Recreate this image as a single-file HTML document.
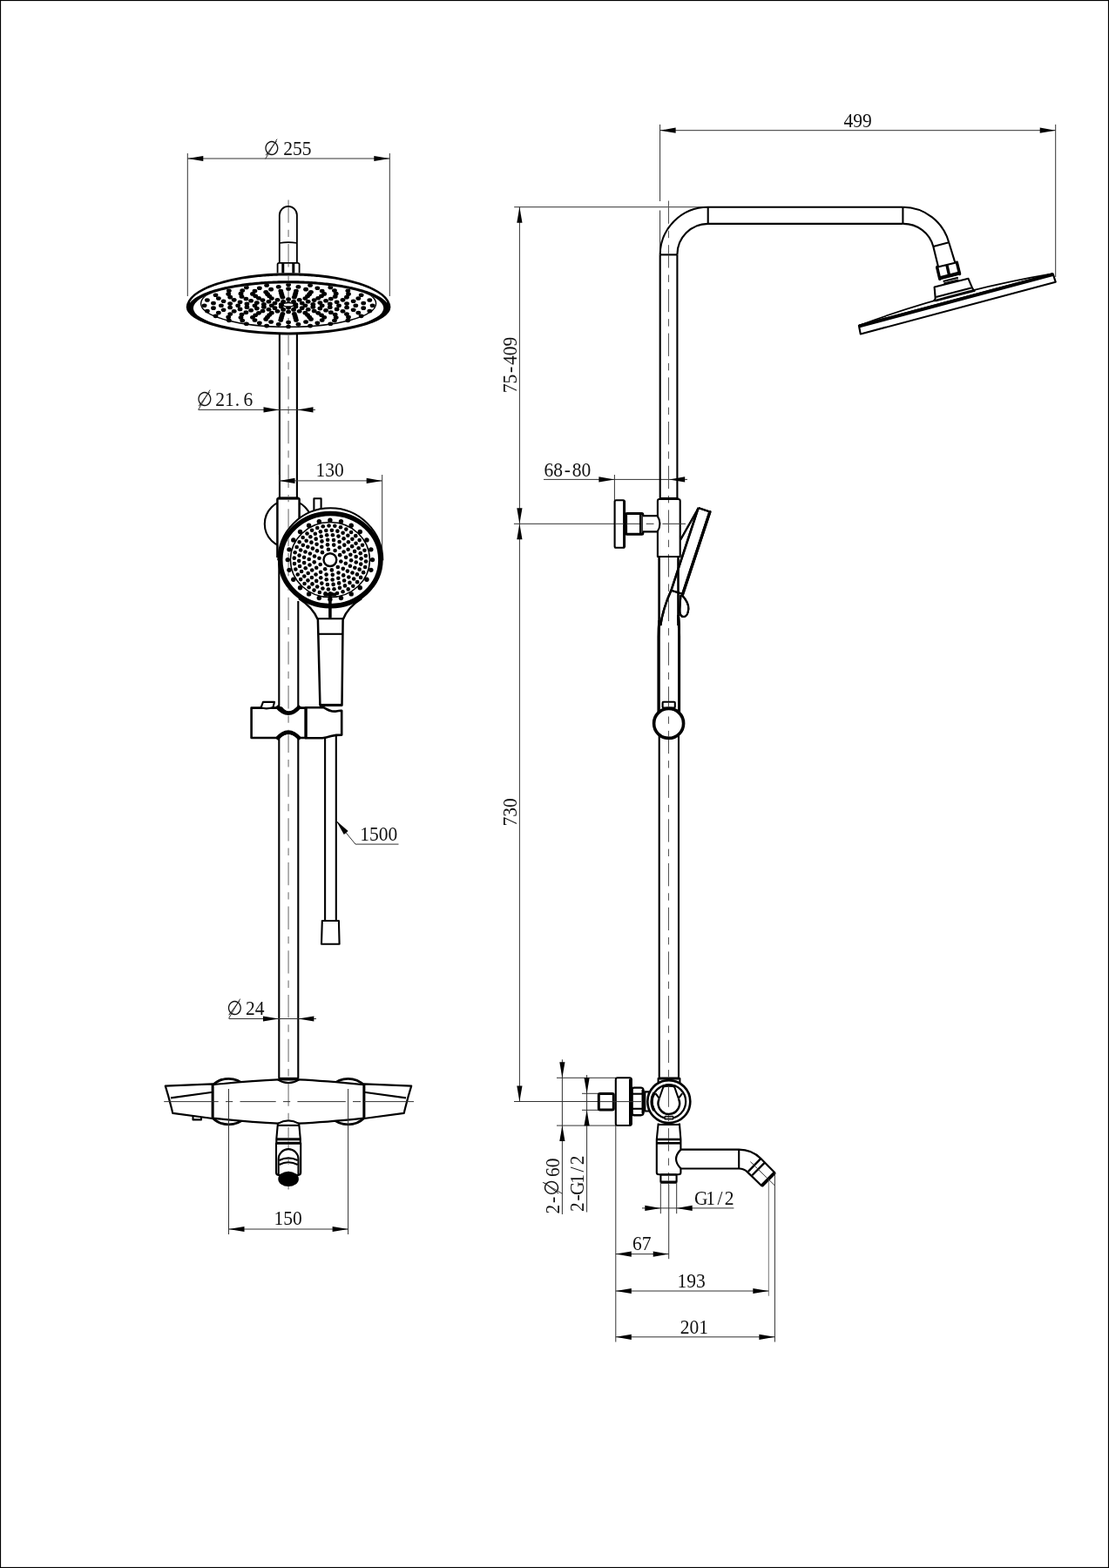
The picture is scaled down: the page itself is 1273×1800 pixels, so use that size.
<!DOCTYPE html>
<html lang="en"><head><meta charset="utf-8"><title>Shower column dimensions</title>
<style>
html,body{margin:0;padding:0;background:#fff;}
svg{display:block;will-change:transform;}
.m{fill:none;stroke:#000;stroke-width:2.1;stroke-linecap:butt;stroke-linejoin:round;}
.mw{fill:#fff;stroke:#000;stroke-width:2.1;stroke-linejoin:round;}
.t{fill:none;stroke:#000;stroke-width:3;stroke-linejoin:round;}
.tw{fill:#fff;stroke:#000;stroke-width:3;stroke-linejoin:round;}
.d{fill:none;stroke:#333;stroke-width:1;}
.c{fill:none;stroke:#999;stroke-width:1.5;stroke-dasharray:26.3 8 8.4 8;mix-blend-mode:darken;}
.c2{fill:none;stroke:#555;stroke-width:1;stroke-dasharray:26.3 8 8.4 8;mix-blend-mode:darken;}
.a{fill:#000;stroke:none;}
.k{fill:#000;stroke:none;}
.tx{font-family:"Liberation Serif",serif;fill:#111;}
.ds{font-family:"Liberation Serif","DejaVu Sans",serif;fill:#111;}
</style></head>
<body>
<svg width="1273" height="1800" viewBox="0 0 1273 1800">
<rect x="0" y="0" width="1273" height="1800" fill="#fff"/>
<g id="front-view">
<line class="d" x1="215.3" y1="176" x2="215.3" y2="340"/>
<line class="d" x1="447.3" y1="176" x2="447.3" y2="340"/>
<line class="d" x1="215.3" y1="182" x2="447.3" y2="182"/>
<polygon class="a" points="215.3,182 233.3,178.9 233.3,185.1"/>
<polygon class="a" points="447.3,182 429.3,185.1 429.3,178.9"/>
<g transform="translate(303,178.2)"><text class="tx" transform="scale(0.92,1)" font-size="23.4"><tspan class="ds" font-size="22.8" x="-0.36" y="-0.4">∅</tspan><tspan x="24.13 35.82 47.52" y="0">255</tspan></text><line class="d" x1="1.7" y1="4.2" x2="15" y2="-18.6"/></g>
<path class="mw" d="M320.8,302 V246.9 A10.05,10.05 0 0 1 340.9,246.9 V302" style="stroke-width:1.8"/>
<path class="m" d="M320.8,279 Q331,277.3 340.9,279" style="stroke-width:1.6"/>
<path class="mw" d="M318.6,313.5 V303.5 Q318.6,301.8 320.5,301.8 H341.5 Q343.6,301.8 343.6,303.5 V313.5" style="stroke-width:1.8"/>
<line class="t" x1="324.8" y1="302" x2="324.8" y2="313.5"/>
<line class="t" x1="336.8" y1="302" x2="336.8" y2="313.5"/>
<line class="m" x1="320.9" y1="383" x2="320.9" y2="572"/>
<line class="m" x1="340.9" y1="383" x2="340.9" y2="572"/>
<line class="m" x1="320.3" y1="640" x2="320.3" y2="1238"/>
<line class="m" x1="342.3" y1="690" x2="342.3" y2="1238"/>
<defs><clipPath id="faceclip"><path d="M221.9,353.8 A109.2,28.6 0 0 1 440.3,353.8 A109.2,27.6 0 0 1 221.9,353.8 Z"/></clipPath><clipPath id="headband"><rect x="300" y="312" width="60" height="73"/></clipPath><clipPath id="nothead"><rect x="300" y="200" width="60" height="113"/><rect x="300" y="385" width="60" height="1000"/></clipPath></defs>
<path class="k" d="M213.8,352.6 A117.3,39.3 0 0 1 448.4,352.6 A117.3,31.8 0 0 1 213.8,352.6 Z"/>
<polygon class="k" points="218.12,346.54 220.03,343.68 221.95,341.57 223.86,339.84 225.78,338.33 227.69,337 229.61,335.79 231.52,334.68 233.44,333.66 235.35,332.71 237.27,331.82 239.18,330.98 241.1,330.19 243.01,329.44 244.93,328.74 246.84,328.06 248.76,327.42 250.67,326.81 252.59,326.23 254.5,325.67 256.42,325.14 258.33,324.63 260.25,324.15 262.16,323.68 264.08,323.24 265.99,322.81 267.91,322.4 269.82,322.01 271.74,321.64 273.65,321.28 275.56,320.93 277.48,320.61 279.4,320.29 281.31,320 283.23,319.71 285.14,319.44 287.06,319.18 288.97,318.93 290.88,318.7 292.8,318.48 294.72,318.27 296.63,318.08 298.55,317.89 300.46,317.72 302.38,317.56 304.29,317.4 306.21,317.26 308.12,317.14 310.04,317.02 311.95,316.91 313.87,316.81 315.78,316.72 317.7,316.65 319.61,316.58 321.53,316.53 323.44,316.48 325.36,316.45 327.27,316.42 329.19,316.41 331.1,316.4 333.02,316.41 334.93,316.42 336.85,316.45 338.76,316.48 340.68,316.53 342.59,316.58 344.5,316.65 346.42,316.72 348.34,316.81 350.25,316.91 352.17,317.02 354.08,317.14 356,317.26 357.91,317.4 359.83,317.56 361.74,317.72 363.66,317.89 365.57,318.08 367.49,318.27 369.4,318.48 371.31,318.7 373.23,318.93 375.15,319.18 377.06,319.44 378.98,319.71 380.89,320 382.81,320.29 384.72,320.61 386.63,320.93 388.55,321.28 390.47,321.64 392.38,322.01 394.3,322.4 396.21,322.81 398.12,323.24 400.04,323.68 401.96,324.15 403.87,324.63 405.79,325.14 407.7,325.67 409.62,326.23 411.53,326.81 413.45,327.42 415.36,328.06 417.27,328.74 419.19,329.44 421.11,330.19 423.02,330.98 424.94,331.82 426.85,332.71 428.77,333.66 430.68,334.68 432.6,335.79 434.51,337 436.43,338.33 438.34,339.84 440.25,341.57 442.17,343.68 444.09,346.54 444.09,347.43 442.17,345.33 440.25,343.66 438.34,342.25 436.43,341.01 434.51,339.9 432.6,338.88 430.68,337.95 428.77,337.08 426.85,336.27 424.94,335.51 423.02,334.8 421.11,334.12 419.19,333.48 417.27,332.87 415.36,332.29 413.45,331.74 411.53,331.22 409.62,330.71 407.7,330.23 405.79,329.77 403.87,329.34 401.96,328.92 400.04,328.51 398.12,328.13 396.21,327.76 394.3,327.4 392.38,327.07 390.47,326.74 388.55,326.43 386.63,326.13 384.72,325.85 382.81,325.58 380.89,325.32 378.98,325.07 377.06,324.84 375.15,324.61 373.23,324.4 371.31,324.2 369.4,324.01 367.49,323.83 365.57,323.66 363.66,323.5 361.74,323.34 359.83,323.2 357.91,323.07 356,322.95 354.08,322.84 352.17,322.74 350.25,322.64 348.34,322.56 346.42,322.48 344.5,322.42 342.59,322.36 340.68,322.31 338.76,322.27 336.85,322.24 334.93,322.22 333.02,322.2 331.1,322.2 329.19,322.2 327.27,322.22 325.36,322.24 323.44,322.27 321.53,322.31 319.61,322.36 317.7,322.42 315.78,322.48 313.87,322.56 311.95,322.64 310.04,322.74 308.12,322.84 306.21,322.95 304.29,323.07 302.38,323.2 300.46,323.34 298.55,323.5 296.63,323.66 294.72,323.83 292.8,324.01 290.88,324.2 288.97,324.4 287.06,324.61 285.14,324.84 283.23,325.07 281.31,325.32 279.4,325.58 277.48,325.85 275.56,326.13 273.65,326.43 271.74,326.74 269.82,327.07 267.91,327.4 265.99,327.76 264.08,328.13 262.16,328.51 260.25,328.92 258.33,329.34 256.42,329.77 254.5,330.23 252.59,330.71 250.67,331.22 248.76,331.74 246.84,332.29 244.93,332.87 243.01,333.48 241.1,334.12 239.18,334.8 237.27,335.51 235.35,336.27 233.44,337.08 231.52,337.95 229.61,338.88 227.69,339.9 225.78,341.01 223.86,342.25 221.95,343.66 220.03,345.33 218.12,347.43" style="fill:#fff"/>
<path class="k" d="M221.9,353.8 A109.2,28.6 0 0 1 440.3,353.8 A109.2,27.6 0 0 1 221.9,353.8 Z" style="fill:#fff"/>
<line class="c" x1="331.1" y1="229.4" x2="331.1" y2="1365.6" clip-path="url(#headband)"/>
<g clip-path="url(#faceclip)">
<ellipse class="m" cx="331.1" cy="348.5" rx="100.5" ry="26.8" style="stroke-width:1.4"/>
<g class="k"><ellipse cx="339.46" cy="352.01" rx="2.9" ry="2.3"/><ellipse cx="331.1" cy="353.21" rx="2.9" ry="2.3"/><ellipse cx="322.74" cy="352.01" rx="2.9" ry="2.3"/><ellipse cx="322.74" cy="349.59" rx="2.9" ry="2.3"/><ellipse cx="331.1" cy="348.39" rx="2.9" ry="2.3"/><ellipse cx="339.46" cy="349.59" rx="2.9" ry="2.3"/><ellipse cx="350.4" cy="350.8" rx="2.9" ry="2.3"/><ellipse cx="346.71" cy="353.64" rx="2.9" ry="2.3"/><ellipse cx="337.06" cy="355.39" rx="2.9" ry="2.3"/><ellipse cx="325.14" cy="355.39" rx="2.9" ry="2.3"/><ellipse cx="315.49" cy="353.64" rx="2.9" ry="2.3"/><ellipse cx="311.8" cy="350.8" rx="2.9" ry="2.3"/><ellipse cx="315.49" cy="347.96" rx="2.9" ry="2.3"/><ellipse cx="325.14" cy="346.21" rx="2.9" ry="2.3"/><ellipse cx="337.06" cy="346.21" rx="2.9" ry="2.3"/><ellipse cx="346.71" cy="347.96" rx="2.9" ry="2.3"/><ellipse cx="359.32" cy="352.41" rx="2.9" ry="2.3"/><ellipse cx="353.73" cy="355.31" rx="2.9" ry="2.3"/><ellipse cx="343.66" cy="357.32" rx="2.9" ry="2.3"/><ellipse cx="331.1" cy="358.04" rx="2.9" ry="2.3"/><ellipse cx="318.54" cy="357.32" rx="2.9" ry="2.3"/><ellipse cx="308.47" cy="355.31" rx="2.9" ry="2.3"/><ellipse cx="302.88" cy="352.41" rx="2.9" ry="2.3"/><ellipse cx="302.88" cy="349.19" rx="2.9" ry="2.3"/><ellipse cx="308.47" cy="346.29" rx="2.9" ry="2.3"/><ellipse cx="318.54" cy="344.28" rx="2.9" ry="2.3"/><ellipse cx="331.1" cy="343.56" rx="2.9" ry="2.3"/><ellipse cx="343.66" cy="344.28" rx="2.9" ry="2.3"/><ellipse cx="353.73" cy="346.29" rx="2.9" ry="2.3"/><ellipse cx="359.32" cy="349.19" rx="2.9" ry="2.3"/><ellipse cx="369.7" cy="350.8" rx="2.9" ry="2.3"/><ellipse cx="367.37" cy="354.1" rx="2.9" ry="2.3"/><ellipse cx="360.67" cy="357" rx="2.9" ry="2.3"/><ellipse cx="350.4" cy="359.16" rx="2.9" ry="2.3"/><ellipse cx="337.8" cy="360.3" rx="2.9" ry="2.3"/><ellipse cx="324.4" cy="360.3" rx="2.9" ry="2.3"/><ellipse cx="311.8" cy="359.16" rx="2.9" ry="2.3"/><ellipse cx="301.53" cy="357" rx="2.9" ry="2.3"/><ellipse cx="294.83" cy="354.1" rx="2.9" ry="2.3"/><ellipse cx="292.5" cy="350.8" rx="2.9" ry="2.3"/><ellipse cx="294.83" cy="347.5" rx="2.9" ry="2.3"/><ellipse cx="301.53" cy="344.6" rx="2.9" ry="2.3"/><ellipse cx="311.8" cy="342.44" rx="2.9" ry="2.3"/><ellipse cx="324.4" cy="341.3" rx="2.9" ry="2.3"/><ellipse cx="337.8" cy="341.3" rx="2.9" ry="2.3"/><ellipse cx="350.4" cy="342.44" rx="2.9" ry="2.3"/><ellipse cx="360.67" cy="344.6" rx="2.9" ry="2.3"/><ellipse cx="367.37" cy="347.5" rx="2.9" ry="2.3"/><ellipse cx="378.76" cy="352.69" rx="2.9" ry="2.3"/><ellipse cx="374.09" cy="356.28" rx="2.9" ry="2.3"/><ellipse cx="365.22" cy="359.33" rx="2.9" ry="2.3"/><ellipse cx="353.01" cy="361.55" rx="2.9" ry="2.3"/><ellipse cx="338.65" cy="362.71" rx="2.9" ry="2.3"/><ellipse cx="323.55" cy="362.71" rx="2.9" ry="2.3"/><ellipse cx="309.19" cy="361.55" rx="2.9" ry="2.3"/><ellipse cx="296.98" cy="359.33" rx="2.9" ry="2.3"/><ellipse cx="288.11" cy="356.28" rx="2.9" ry="2.3"/><ellipse cx="283.44" cy="352.69" rx="2.9" ry="2.3"/><ellipse cx="283.44" cy="348.91" rx="2.9" ry="2.3"/><ellipse cx="288.11" cy="345.32" rx="2.9" ry="2.3"/><ellipse cx="296.98" cy="342.27" rx="2.9" ry="2.3"/><ellipse cx="309.19" cy="340.05" rx="2.9" ry="2.3"/><ellipse cx="323.55" cy="338.89" rx="2.9" ry="2.3"/><ellipse cx="338.65" cy="338.89" rx="2.9" ry="2.3"/><ellipse cx="353.01" cy="340.05" rx="2.9" ry="2.3"/><ellipse cx="365.22" cy="342.27" rx="2.9" ry="2.3"/><ellipse cx="374.09" cy="345.32" rx="2.9" ry="2.3"/><ellipse cx="378.76" cy="348.91" rx="2.9" ry="2.3"/><ellipse cx="389" cy="350.8" rx="2.9" ry="2.3"/><ellipse cx="386.65" cy="354.88" rx="2.9" ry="2.3"/><ellipse cx="379.81" cy="358.63" rx="2.9" ry="2.3"/><ellipse cx="369.02" cy="361.74" rx="2.9" ry="2.3"/><ellipse cx="355.15" cy="363.97" rx="2.9" ry="2.3"/><ellipse cx="339.34" cy="365.13" rx="2.9" ry="2.3"/><ellipse cx="322.86" cy="365.13" rx="2.9" ry="2.3"/><ellipse cx="307.05" cy="363.97" rx="2.9" ry="2.3"/><ellipse cx="293.18" cy="361.74" rx="2.9" ry="2.3"/><ellipse cx="282.39" cy="358.63" rx="2.9" ry="2.3"/><ellipse cx="275.55" cy="354.88" rx="2.9" ry="2.3"/><ellipse cx="273.2" cy="350.8" rx="2.9" ry="2.3"/><ellipse cx="275.55" cy="346.72" rx="2.9" ry="2.3"/><ellipse cx="282.39" cy="342.97" rx="2.9" ry="2.3"/><ellipse cx="293.18" cy="339.86" rx="2.9" ry="2.3"/><ellipse cx="307.05" cy="337.63" rx="2.9" ry="2.3"/><ellipse cx="322.86" cy="336.47" rx="2.9" ry="2.3"/><ellipse cx="339.34" cy="336.47" rx="2.9" ry="2.3"/><ellipse cx="355.15" cy="337.63" rx="2.9" ry="2.3"/><ellipse cx="369.02" cy="339.86" rx="2.9" ry="2.3"/><ellipse cx="379.81" cy="342.97" rx="2.9" ry="2.3"/><ellipse cx="386.65" cy="346.72" rx="2.9" ry="2.3"/><ellipse cx="398.07" cy="353" rx="2.9" ry="2.3"/><ellipse cx="393.51" cy="357.26" rx="2.9" ry="2.3"/><ellipse cx="384.69" cy="361.08" rx="2.9" ry="2.3"/><ellipse cx="372.22" cy="364.2" rx="2.9" ry="2.3"/><ellipse cx="356.95" cy="366.4" rx="2.9" ry="2.3"/><ellipse cx="339.92" cy="367.54" rx="2.9" ry="2.3"/><ellipse cx="322.28" cy="367.54" rx="2.9" ry="2.3"/><ellipse cx="305.25" cy="366.4" rx="2.9" ry="2.3"/><ellipse cx="289.98" cy="364.2" rx="2.9" ry="2.3"/><ellipse cx="277.51" cy="361.08" rx="2.9" ry="2.3"/><ellipse cx="268.69" cy="357.26" rx="2.9" ry="2.3"/><ellipse cx="264.13" cy="353" rx="2.9" ry="2.3"/><ellipse cx="264.13" cy="348.6" rx="2.9" ry="2.3"/><ellipse cx="268.69" cy="344.34" rx="2.9" ry="2.3"/><ellipse cx="277.51" cy="340.52" rx="2.9" ry="2.3"/><ellipse cx="289.98" cy="337.4" rx="2.9" ry="2.3"/><ellipse cx="305.25" cy="335.2" rx="2.9" ry="2.3"/><ellipse cx="322.28" cy="334.06" rx="2.9" ry="2.3"/><ellipse cx="339.92" cy="334.06" rx="2.9" ry="2.3"/><ellipse cx="356.95" cy="335.2" rx="2.9" ry="2.3"/><ellipse cx="372.22" cy="337.4" rx="2.9" ry="2.3"/><ellipse cx="384.69" cy="340.52" rx="2.9" ry="2.3"/><ellipse cx="393.51" cy="344.34" rx="2.9" ry="2.3"/><ellipse cx="398.07" cy="348.6" rx="2.9" ry="2.3"/><ellipse cx="408.3" cy="350.8" rx="2.9" ry="2.3"/><ellipse cx="405.67" cy="355.8" rx="2.9" ry="2.3"/><ellipse cx="397.96" cy="360.45" rx="2.9" ry="2.3"/><ellipse cx="385.69" cy="364.45" rx="2.9" ry="2.3"/><ellipse cx="369.7" cy="367.51" rx="2.9" ry="2.3"/><ellipse cx="351.08" cy="369.44" rx="2.9" ry="2.3"/><ellipse cx="331.1" cy="370.1" rx="2.9" ry="2.3"/><ellipse cx="311.12" cy="369.44" rx="2.9" ry="2.3"/><ellipse cx="292.5" cy="367.51" rx="2.9" ry="2.3"/><ellipse cx="276.51" cy="364.45" rx="2.9" ry="2.3"/><ellipse cx="264.24" cy="360.45" rx="2.9" ry="2.3"/><ellipse cx="256.53" cy="355.8" rx="2.9" ry="2.3"/><ellipse cx="253.9" cy="350.8" rx="2.9" ry="2.3"/><ellipse cx="256.53" cy="345.8" rx="2.9" ry="2.3"/><ellipse cx="264.24" cy="341.15" rx="2.9" ry="2.3"/><ellipse cx="276.51" cy="337.15" rx="2.9" ry="2.3"/><ellipse cx="292.5" cy="334.09" rx="2.9" ry="2.3"/><ellipse cx="311.12" cy="332.16" rx="2.9" ry="2.3"/><ellipse cx="331.1" cy="331.5" rx="2.9" ry="2.3"/><ellipse cx="351.08" cy="332.16" rx="2.9" ry="2.3"/><ellipse cx="369.7" cy="334.09" rx="2.9" ry="2.3"/><ellipse cx="385.69" cy="337.15" rx="2.9" ry="2.3"/><ellipse cx="397.96" cy="341.15" rx="2.9" ry="2.3"/><ellipse cx="405.67" cy="345.8" rx="2.9" ry="2.3"/><ellipse cx="417.21" cy="353.63" rx="2.9" ry="2.3"/><ellipse cx="411.34" cy="359.11" rx="2.9" ry="2.3"/><ellipse cx="400" cy="364.02" rx="2.9" ry="2.3"/><ellipse cx="383.97" cy="368.03" rx="2.9" ry="2.3"/><ellipse cx="364.34" cy="370.86" rx="2.9" ry="2.3"/><ellipse cx="342.44" cy="372.33" rx="2.9" ry="2.3"/><ellipse cx="319.76" cy="372.33" rx="2.9" ry="2.3"/><ellipse cx="297.86" cy="370.86" rx="2.9" ry="2.3"/><ellipse cx="278.23" cy="368.03" rx="2.9" ry="2.3"/><ellipse cx="262.2" cy="364.02" rx="2.9" ry="2.3"/><ellipse cx="250.86" cy="359.11" rx="2.9" ry="2.3"/><ellipse cx="244.99" cy="353.63" rx="2.9" ry="2.3"/><ellipse cx="244.99" cy="347.97" rx="2.9" ry="2.3"/><ellipse cx="250.86" cy="342.49" rx="2.9" ry="2.3"/><ellipse cx="262.2" cy="337.58" rx="2.9" ry="2.3"/><ellipse cx="278.23" cy="333.57" rx="2.9" ry="2.3"/><ellipse cx="297.86" cy="330.74" rx="2.9" ry="2.3"/><ellipse cx="319.76" cy="329.27" rx="2.9" ry="2.3"/><ellipse cx="342.44" cy="329.27" rx="2.9" ry="2.3"/><ellipse cx="364.34" cy="330.74" rx="2.9" ry="2.3"/><ellipse cx="383.97" cy="333.57" rx="2.9" ry="2.3"/><ellipse cx="400" cy="337.58" rx="2.9" ry="2.3"/><ellipse cx="411.34" cy="342.49" rx="2.9" ry="2.3"/><ellipse cx="417.21" cy="347.97" rx="2.9" ry="2.3"/><ellipse cx="427.6" cy="350.8" rx="2.9" ry="2.3"/><ellipse cx="424.31" cy="357.04" rx="2.9" ry="2.3"/><ellipse cx="414.67" cy="362.86" rx="2.9" ry="2.3"/><ellipse cx="399.34" cy="367.86" rx="2.9" ry="2.3"/><ellipse cx="379.35" cy="371.69" rx="2.9" ry="2.3"/><ellipse cx="356.08" cy="374.1" rx="2.9" ry="2.3"/><ellipse cx="331.1" cy="374.93" rx="2.9" ry="2.3"/><ellipse cx="306.12" cy="374.1" rx="2.9" ry="2.3"/><ellipse cx="282.85" cy="371.69" rx="2.9" ry="2.3"/><ellipse cx="262.86" cy="367.86" rx="2.9" ry="2.3"/><ellipse cx="247.53" cy="362.86" rx="2.9" ry="2.3"/><ellipse cx="237.89" cy="357.04" rx="2.9" ry="2.3"/><ellipse cx="234.6" cy="350.8" rx="2.9" ry="2.3"/><ellipse cx="237.89" cy="344.56" rx="2.9" ry="2.3"/><ellipse cx="247.53" cy="338.74" rx="2.9" ry="2.3"/><ellipse cx="262.86" cy="333.74" rx="2.9" ry="2.3"/><ellipse cx="282.85" cy="329.91" rx="2.9" ry="2.3"/><ellipse cx="306.12" cy="327.5" rx="2.9" ry="2.3"/><ellipse cx="331.1" cy="326.68" rx="2.9" ry="2.3"/><ellipse cx="356.08" cy="327.5" rx="2.9" ry="2.3"/><ellipse cx="379.35" cy="329.91" rx="2.9" ry="2.3"/><ellipse cx="399.34" cy="333.74" rx="2.9" ry="2.3"/><ellipse cx="414.67" cy="338.74" rx="2.9" ry="2.3"/><ellipse cx="424.31" cy="344.56" rx="2.9" ry="2.3"/></g>
<ellipse class="mw" cx="331.1" cy="349.8" rx="6" ry="2.2" style="stroke-width:1.3"/>
</g>
<line class="d" x1="227.7" y1="470.4" x2="362" y2="470.4"/>
<polygon class="a" points="320.5,470.4 302.5,473.5 302.5,467.3"/>
<polygon class="a" points="341.5,470.4 359.5,467.3 359.5,473.5"/>
<g transform="translate(226,466.1)"><text class="tx" transform="scale(0.92,1)" font-size="23.4"><tspan class="ds" font-size="22.8" x="-0.36" y="-0.4">∅</tspan><tspan x="23.15 34.85 47.63 58.24" y="0">21.6</tspan></text><line class="d" x1="1.7" y1="4.2" x2="15" y2="-18.6"/></g>
<line class="d" x1="320.5" y1="545" x2="320.5" y2="572"/>
<line class="d" x1="438.7" y1="545" x2="438.7" y2="642"/>
<line class="d" x1="320.5" y1="551.9" x2="438.7" y2="551.9"/>
<polygon class="a" points="320.5,551.9 338.5,548.8 338.5,555"/>
<polygon class="a" points="438.7,551.9 420.7,555 420.7,548.8"/>
<g transform="translate(362.4,547.4)"><text class="tx" transform="scale(0.92,1)" font-size="23.4"><tspan x="-0 11.69 23.39" y="0">130</tspan></text></g>
<circle class="mw" cx="331" cy="601.5" r="27.2"/>
<path class="mw" d="M318.4,640 V573.5 Q318.4,572 320,572 H342 Q343.6,572 343.6,573.5 V640" style="stroke-width:2.5"/>
<line class="t" x1="319.5" y1="572" x2="342.5" y2="572"/>
<rect class="mw" x="360.4" y="572.3" width="8.2" height="17.7"/>
<path class="mw" d="M319.3,643.3 A60,60 0 0 1 439.3,643.3"/>
<ellipse class="mw" cx="379.3" cy="642.6" rx="57.6" ry="53.1" style="stroke-width:5.6"/>
<ellipse class="m" cx="378.9" cy="642.6" rx="45.5" ry="43" style="stroke-width:1.5"/>
<g class="k"><circle cx="427.5" cy="642.6" r="2.7"/><circle cx="425.84" cy="654.35" r="2.7"/><circle cx="420.99" cy="665.3" r="2.7"/><circle cx="413.27" cy="674.7" r="2.7"/><circle cx="403.2" cy="681.92" r="2.7"/><circle cx="391.48" cy="686.45" r="2.7"/><circle cx="378.9" cy="688" r="2.7"/><circle cx="366.32" cy="686.45" r="2.7"/><circle cx="354.6" cy="681.92" r="2.7"/><circle cx="344.53" cy="674.7" r="2.7"/><circle cx="336.81" cy="665.3" r="2.7"/><circle cx="331.96" cy="654.35" r="2.7"/><circle cx="330.3" cy="642.6" r="2.7"/><circle cx="331.96" cy="630.85" r="2.7"/><circle cx="336.81" cy="619.9" r="2.7"/><circle cx="344.53" cy="610.5" r="2.7"/><circle cx="354.6" cy="603.28" r="2.7"/><circle cx="366.32" cy="598.75" r="2.7"/><circle cx="378.9" cy="597.2" r="2.7"/><circle cx="391.48" cy="598.75" r="2.7"/><circle cx="403.2" cy="603.28" r="2.7"/><circle cx="413.27" cy="610.5" r="2.7"/><circle cx="420.99" cy="619.9" r="2.7"/><circle cx="425.84" cy="630.85" r="2.7"/><circle cx="391.34" cy="644.47" r="2.3"/><circle cx="387.81" cy="651.06" r="2.3"/><circle cx="380.87" cy="654.42" r="2.3"/><circle cx="373.18" cy="653.27" r="2.3"/><circle cx="367.67" cy="648.03" r="2.3"/><circle cx="366.46" cy="640.73" r="2.3"/><circle cx="369.99" cy="634.14" r="2.3"/><circle cx="376.93" cy="630.78" r="2.3"/><circle cx="384.62" cy="631.93" r="2.3"/><circle cx="390.13" cy="637.17" r="2.3"/><circle cx="396.79" cy="646.68" r="2.3"/><circle cx="393.79" cy="652.87" r="2.3"/><circle cx="388.51" cy="657.5" r="2.3"/><circle cx="381.78" cy="659.86" r="2.3"/><circle cx="374.6" cy="659.6" r="2.3"/><circle cx="368.08" cy="656.74" r="2.3"/><circle cx="363.21" cy="651.73" r="2.3"/><circle cx="360.73" cy="645.33" r="2.3"/><circle cx="361.01" cy="638.52" r="2.3"/><circle cx="364.01" cy="632.33" r="2.3"/><circle cx="369.29" cy="627.7" r="2.3"/><circle cx="376.02" cy="625.34" r="2.3"/><circle cx="383.2" cy="625.6" r="2.3"/><circle cx="389.72" cy="628.46" r="2.3"/><circle cx="394.59" cy="633.47" r="2.3"/><circle cx="397.07" cy="639.87" r="2.3"/><circle cx="403.09" cy="643.26" r="2.3"/><circle cx="401.92" cy="649.7" r="2.3"/><circle cx="398.88" cy="655.58" r="2.3"/><circle cx="394.22" cy="660.4" r="2.3"/><circle cx="388.32" cy="663.78" r="2.3"/><circle cx="381.66" cy="665.44" r="2.3"/><circle cx="374.77" cy="665.25" r="2.3"/><circle cx="368.22" cy="663.23" r="2.3"/><circle cx="362.54" cy="659.54" r="2.3"/><circle cx="358.18" cy="654.47" r="2.3"/><circle cx="355.5" cy="648.44" r="2.3"/><circle cx="354.71" cy="641.94" r="2.3"/><circle cx="355.88" cy="635.5" r="2.3"/><circle cx="358.92" cy="629.62" r="2.3"/><circle cx="363.58" cy="624.8" r="2.3"/><circle cx="369.48" cy="621.42" r="2.3"/><circle cx="376.14" cy="619.76" r="2.3"/><circle cx="383.03" cy="619.95" r="2.3"/><circle cx="389.58" cy="621.97" r="2.3"/><circle cx="395.26" cy="625.66" r="2.3"/><circle cx="399.62" cy="630.73" r="2.3"/><circle cx="402.3" cy="636.76" r="2.3"/><circle cx="408.75" cy="645.47" r="2.3"/><circle cx="407.33" cy="651.71" r="2.3"/><circle cx="404.48" cy="657.49" r="2.3"/><circle cx="400.35" cy="662.53" r="2.3"/><circle cx="395.14" cy="666.56" r="2.3"/><circle cx="389.13" cy="669.39" r="2.3"/><circle cx="382.59" cy="670.88" r="2.3"/><circle cx="375.88" cy="670.95" r="2.3"/><circle cx="369.31" cy="669.6" r="2.3"/><circle cx="363.23" cy="666.9" r="2.3"/><circle cx="357.93" cy="662.98" r="2.3"/><circle cx="353.68" cy="658.03" r="2.3"/><circle cx="350.7" cy="652.31" r="2.3"/><circle cx="349.13" cy="646.11" r="2.3"/><circle cx="349.05" cy="639.73" r="2.3"/><circle cx="350.47" cy="633.49" r="2.3"/><circle cx="353.32" cy="627.71" r="2.3"/><circle cx="357.45" cy="622.67" r="2.3"/><circle cx="362.66" cy="618.64" r="2.3"/><circle cx="368.67" cy="615.81" r="2.3"/><circle cx="375.21" cy="614.32" r="2.3"/><circle cx="381.92" cy="614.25" r="2.3"/><circle cx="388.49" cy="615.6" r="2.3"/><circle cx="394.57" cy="618.3" r="2.3"/><circle cx="399.87" cy="622.22" r="2.3"/><circle cx="404.12" cy="627.17" r="2.3"/><circle cx="407.1" cy="632.89" r="2.3"/><circle cx="408.67" cy="639.09" r="2.3"/><circle cx="414.21" cy="647.6" r="2.3"/><circle cx="412.64" cy="653.67" r="2.3"/><circle cx="409.93" cy="659.38" r="2.3"/><circle cx="406.15" cy="664.51" r="2.3"/><circle cx="401.45" cy="668.89" r="2.3"/><circle cx="395.98" cy="672.38" r="2.3"/><circle cx="389.93" cy="674.86" r="2.3"/><circle cx="383.51" cy="676.23" r="2.3"/><circle cx="376.92" cy="676.46" r="2.3"/><circle cx="370.41" cy="675.54" r="2.3"/><circle cx="364.18" cy="673.5" r="2.3"/><circle cx="358.45" cy="670.4" r="2.3"/><circle cx="353.42" cy="666.36" r="2.3"/><circle cx="349.26" cy="661.51" r="2.3"/><circle cx="346.11" cy="656.01" r="2.3"/><circle cx="344.07" cy="650.06" r="2.3"/><circle cx="343.22" cy="643.85" r="2.3"/><circle cx="343.59" cy="637.6" r="2.3"/><circle cx="345.16" cy="631.53" r="2.3"/><circle cx="347.87" cy="625.82" r="2.3"/><circle cx="351.65" cy="620.69" r="2.3"/><circle cx="356.35" cy="616.31" r="2.3"/><circle cx="361.82" cy="612.82" r="2.3"/><circle cx="367.87" cy="610.34" r="2.3"/><circle cx="374.29" cy="608.97" r="2.3"/><circle cx="380.88" cy="608.74" r="2.3"/><circle cx="387.39" cy="609.66" r="2.3"/><circle cx="393.62" cy="611.7" r="2.3"/><circle cx="399.35" cy="614.8" r="2.3"/><circle cx="404.38" cy="618.84" r="2.3"/><circle cx="408.54" cy="623.69" r="2.3"/><circle cx="411.69" cy="629.19" r="2.3"/><circle cx="413.73" cy="635.14" r="2.3"/><circle cx="414.58" cy="641.35" r="2.3"/><circle cx="420.05" cy="644.54" r="2.3"/><circle cx="419.15" cy="650.95" r="2.3"/><circle cx="417.16" cy="657.13" r="2.3"/><circle cx="414.12" cy="662.91" r="2.3"/><circle cx="410.12" cy="668.14" r="2.3"/><circle cx="405.27" cy="672.68" r="2.3"/><circle cx="399.7" cy="676.39" r="2.3"/><circle cx="393.56" cy="679.18" r="2.3"/><circle cx="387.02" cy="680.97" r="2.3"/><circle cx="380.26" cy="681.72" r="2.3"/><circle cx="373.47" cy="681.4" r="2.3"/><circle cx="366.82" cy="680.02" r="2.3"/><circle cx="360.5" cy="677.62" r="2.3"/><circle cx="354.68" cy="674.26" r="2.3"/><circle cx="349.53" cy="670.05" r="2.3"/><circle cx="345.17" cy="665.08" r="2.3"/><circle cx="341.74" cy="659.5" r="2.3"/><circle cx="339.32" cy="653.46" r="2.3"/><circle cx="337.98" cy="647.12" r="2.3"/><circle cx="337.75" cy="640.66" r="2.3"/><circle cx="338.65" cy="634.25" r="2.3"/><circle cx="340.64" cy="628.07" r="2.3"/><circle cx="343.68" cy="622.29" r="2.3"/><circle cx="347.68" cy="617.06" r="2.3"/><circle cx="352.53" cy="612.52" r="2.3"/><circle cx="358.1" cy="608.81" r="2.3"/><circle cx="364.24" cy="606.02" r="2.3"/><circle cx="370.78" cy="604.23" r="2.3"/><circle cx="377.54" cy="603.48" r="2.3"/><circle cx="384.33" cy="603.8" r="2.3"/><circle cx="390.98" cy="605.18" r="2.3"/><circle cx="397.3" cy="607.58" r="2.3"/><circle cx="403.12" cy="610.94" r="2.3"/><circle cx="408.27" cy="615.15" r="2.3"/><circle cx="412.63" cy="620.12" r="2.3"/><circle cx="416.06" cy="625.7" r="2.3"/><circle cx="418.48" cy="631.74" r="2.3"/><circle cx="419.82" cy="638.08" r="2.3"/></g>
<circle class="mw" cx="378.9" cy="642.6" r="7.4" style="stroke-width:2.4"/>
<line class="m" x1="378.9" y1="680.7" x2="378.9" y2="708.3" style="stroke-width:3.6;stroke-linecap:round"/>
<line class="m" x1="373.4" y1="682.4" x2="384.4" y2="682.4" style="stroke-width:4;stroke-linecap:round"/>
<path class="m" d="M343,687 Q359,697 364.9,711.4 L367.4,809.4 H392.5 L393.6,711.4 Q399,697 415.2,687" style="stroke-width:2.5"/>
<line class="m" x1="365" y1="710.2" x2="393.6" y2="710.2"/>
<line class="m" x1="365.4" y1="727.8" x2="393.4" y2="727.8"/>
<line class="t" x1="367" y1="809.4" x2="393" y2="809.4"/>
<path class="mw" d="M288.6,812.6 H323 Q331,823 342.5,812.6 H351 V847 H342.5 Q331,836.5 320,847 H288.6 Z" style="stroke-width:2.6"/>
<path class="mw" d="M351,812.3 H372 Q380,817.5 386,816.5 Q390,815.5 392.2,815.8 V843.6 Q386,843.6 380,845 Q374,847 370,847.2 H351 Z" style="stroke-width:2.6"/>
<line class="t" x1="351.2" y1="812.5" x2="351.2" y2="847"/>
<path class="m" d="M317.5,810.5 Q331,827 344.5,810.5" style="stroke-width:4.5"/>
<path class="m" d="M317.5,848.5 Q331,832.5 344.5,848.5" style="stroke-width:4.5"/>
<path class="mw" d="M299.5,812.3 L302,805.9 H315 L313.4,812 Q306,814.5 299.5,812.3 Z"/>
<line class="m" x1="373.1" y1="846" x2="373.1" y2="1057"/>
<line class="m" x1="385.8" y1="844" x2="385.8" y2="1057"/>
<path class="mw" d="M369.8,1057 H388.9 L389.6,1083.8 H369 Z"/>
<polyline class="d" points="385.8,942.1 408,969.1 457.5,969.1"/>
<polygon class="a" points="385.8,942.1 399.63,954.03 394.84,957.97"/>
<g transform="translate(413.3,965.2)"><text class="tx" transform="scale(0.92,1)" font-size="23.4"><tspan x="-0 11.69 23.39 35.08" y="0">1500</tspan></text></g>
<line class="d" x1="263" y1="1169.5" x2="363" y2="1169.5"/>
<polygon class="a" points="320,1169.5 302,1172.6 302,1166.4"/>
<polygon class="a" points="342.4,1169.5 360.4,1166.4 360.4,1172.6"/>
<g transform="translate(261,1165.2)"><text class="tx" transform="scale(0.92,1)" font-size="23.4"><tspan class="ds" font-size="22.8" x="-0.69" y="-0.4">∅</tspan><tspan x="22.82 34.52" y="0">24</tspan></text><line class="d" x1="1.4" y1="4.2" x2="14.7" y2="-18.6"/></g>
<circle class="tw" cx="262.5" cy="1264.6" r="26.3" style="stroke-width:2.8"/>
<circle class="tw" cx="399.6" cy="1264.6" r="26.3" style="stroke-width:2.8"/>
<path class="mw" d="M244.1,1244.4 L189.8,1246.7 Q194,1260 198.3,1277.9 L244.1,1284 Z" style="stroke-width:2.2"/>
<line class="m" x1="196" y1="1260.4" x2="244.1" y2="1253.7"/>
<path class="m" d="M221.5,1281.5 V1285.4 H231 V1282.8"/>
<path class="mw" d="M417.9,1244.4 L472.2,1246.7 Q468,1260 463.7,1277.9 L417.9,1284 Z" style="stroke-width:2.2"/>
<line class="m" x1="466" y1="1260.4" x2="417.9" y2="1253.7"/>
<path class="mw" d="M244.1,1245.2 Q290,1240.6 319,1239.4 H343 Q372,1240.6 417.9,1245.2 V1283.6 Q372,1288.4 343,1289.6 H319 Q290,1288.4 244.1,1283.6 Z"/>
<line class="t" x1="244.1" y1="1244.5" x2="244.1" y2="1284"/>
<line class="t" x1="417.9" y1="1244.5" x2="417.9" y2="1284"/>
<line class="t" x1="320" y1="1238.3" x2="342.4" y2="1238.3"/>
<path class="m" d="M318.9,1239.3 Q331,1247 343.3,1239.3"/>
<path class="mw" d="M318.9,1289.8 Q331,1283 343.2,1289.8 L344.8,1307.7 V1312.3 H345.2 V1346 Q345.2,1348.5 342.5,1349 H319.5 Q317,1348.5 317,1346 V1312.3 H317.3 V1307.7 Z"/>
<line class="m" x1="318.9" y1="1291.9" x2="343.3" y2="1291.9"/>
<line class="t" x1="317.3" y1="1307.8" x2="344.8" y2="1307.8"/>
<line class="t" x1="317.1" y1="1312.3" x2="345.1" y2="1312.3"/>
<path class="m" d="M319.7,1349 V1330.5 A11.4,11.4 0 0 1 342.5,1330.5 V1349"/>
<path class="m" d="M320.5,1332 Q331,1326.8 341.7,1332"/>
<path class="m" d="M320.5,1337 Q331,1331.5 341.7,1337"/>
<line class="d" x1="262.5" y1="1250" x2="262.5" y2="1417"/>
<line class="d" x1="399.6" y1="1250" x2="399.6" y2="1417"/>
<line class="d" x1="262.5" y1="1411" x2="399.6" y2="1411"/>
<polygon class="a" points="262.5,1411 280.5,1407.9 280.5,1414.1"/>
<polygon class="a" points="399.6,1411 381.6,1414.1 381.6,1407.9"/>
<g transform="translate(314.5,1405.8)"><text class="tx" transform="scale(0.92,1)" font-size="23.4"><tspan x="-0 11.69 23.39" y="0">150</tspan></text></g>
<line class="c" x1="331.1" y1="229.4" x2="331.1" y2="1365.6" clip-path="url(#nothead)"/>
<line class="d" x1="188.2" y1="1264.6" x2="250.7" y2="1264.6"/>
<line class="d" x1="259" y1="1264.6" x2="267.2" y2="1264.6"/>
<line class="d" x1="275.5" y1="1264.6" x2="316.7" y2="1264.6"/>
<line class="d" x1="325" y1="1264.6" x2="333.2" y2="1264.6"/>
<line class="d" x1="341.4" y1="1264.6" x2="396.8" y2="1264.6"/>
<line class="d" x1="405" y1="1264.6" x2="414" y2="1264.6"/>
<line class="d" x1="418" y1="1264.6" x2="475" y2="1264.6"/>
<ellipse class="k" cx="331.1" cy="1353.4" rx="11.8" ry="8.6"/>
</g>
<g id="side-view">
<line class="d" x1="757.6" y1="142.9" x2="757.6" y2="231"/>
<line class="d" x1="757.6" y1="241.5" x2="757.6" y2="292"/>
<line class="d" x1="1211.7" y1="142.9" x2="1211.7" y2="318"/>
<line class="d" x1="757.6" y1="149.7" x2="1211.7" y2="149.7"/>
<polygon class="a" points="757.6,149.7 775.6,146.6 775.6,152.8"/>
<polygon class="a" points="1211.7,149.7 1193.7,152.8 1193.7,146.6"/>
<g transform="translate(968.6,145.6)"><text class="tx" transform="scale(0.92,1)" font-size="23.4"><tspan x="-0 11.69 23.39" y="0">499</tspan></text></g>
<line class="d" x1="590.2" y1="237.7" x2="812" y2="237.7"/>
<line class="d" x1="589.9" y1="601.3" x2="716" y2="601.3"/>
<line class="d" x1="590" y1="1264.5" x2="745" y2="1264.5"/>
<line class="d" x1="596.4" y1="237.7" x2="596.4" y2="1264.5"/>
<polygon class="a" points="596.4,237.7 599.5,255.7 593.3,255.7"/>
<polygon class="a" points="596.4,601.3 593.3,583.3 599.5,583.3"/>
<polygon class="a" points="596.4,601.3 599.5,619.3 593.3,619.3"/>
<polygon class="a" points="596.4,1264.5 593.3,1246.5 599.5,1246.5"/>
<g transform="translate(592.8,451.2) rotate(-90)"><text class="tx" transform="scale(0.92,1)" font-size="23.4"><tspan x="-0 11.69 25.34 35.08 46.78 58.48" y="0">75-409</tspan></text></g>
<g transform="translate(592.8,948.5) rotate(-90)"><text class="tx" transform="scale(0.92,1)" font-size="23.4"><tspan x="-0 11.69 23.39" y="0">730</tspan></text></g>
<line class="d" x1="624" y1="550.4" x2="705.4" y2="550.4"/>
<line class="d" x1="705.4" y1="550.4" x2="789" y2="550.4"/>
<line class="d" x1="705.4" y1="545" x2="705.4" y2="574"/>
<polygon class="a" points="705.4,550.4 687.4,553.5 687.4,547.3"/>
<polygon class="a" points="768.2,550.4 786.2,547.3 786.2,553.5"/>
<g transform="translate(624.4,546.6)"><text class="tx" transform="scale(0.92,1)" font-size="23.4"><tspan x="-0 11.69 25.34 35.08 46.78" y="0">68-80</tspan></text></g>
<line class="m" x1="757.7" y1="292.4" x2="757.7" y2="573"/>
<line class="m" x1="777.4" y1="292.4" x2="777.4" y2="573"/>
<line class="m" x1="757.7" y1="292.4" x2="777.4" y2="292.4"/>
<path class="m" d="M757.7,292.4 A55,55 0 0 1 812.7,237.7 H1036.4"/>
<path class="m" d="M777.4,292.4 A35.4,35.4 0 0 1 812.7,256.9 H1036.4"/>
<line class="m" x1="812.7" y1="237.7" x2="812.7" y2="256.9"/>
<line class="m" x1="1036.4" y1="237.7" x2="1036.4" y2="256.9"/>
<path class="m" d="M1036.4,237.7 A55,55 0 0 1 1089.2,278.3 L1096.3,301.4"/>
<path class="m" d="M1036.4,256.9 A35.4,35.4 0 0 1 1071.3,283 L1077,306.2"/>
<line class="m" x1="1071.3" y1="283" x2="1089.2" y2="278.3"/>
<polygon class="mw" points="1075.4,306.8 1098.4,301.2 1101.7,314.3 1078.7,320.1"/>
<line class="m" x1="1075.6" y1="306.6" x2="1078.8" y2="320.3" style="stroke-width:3.4;stroke-linecap:round"/>
<line class="m" x1="1098.3" y1="301.2" x2="1101.6" y2="314.5" style="stroke-width:3.4;stroke-linecap:round"/>
<line class="m" x1="1087" y1="304.6" x2="1089.8" y2="317" style="stroke-width:3.4"/>
<line class="m" x1="1078.9" y1="319.2" x2="1101.5" y2="313.5" style="stroke-width:4"/>
<line class="m" x1="1082.6" y1="322.9" x2="1099.8" y2="318.7"/>
<line class="m" x1="1083.4" y1="325.6" x2="1100.2" y2="321.4"/>
<path class="mw" d="M1071.6,345.8 Q1073.6,344 1073.7,342.4 L1072.6,329.6 L1111.5,319.8 L1116.4,331.4 Q1117.5,333.2 1119.6,333.6"/>
<line class="m" x1="1074.4" y1="341" x2="1114.8" y2="330.4"/>
<line class="m" x1="1073.4" y1="345.4" x2="1119" y2="333.7"/>
<polygon class="mw" points="985.9,373.8 1208.6,314.2 1211.7,323.7 987.8,383.5"/>
<line class="m" x1="986.5" y1="374.4" x2="1208.4" y2="315.1" style="stroke-width:3.8"/>
<path class="m" d="M985.7,373.7 Q1095,333.4 1208.6,314.2" style="stroke-width:1.7"/>
<rect class="mw" x="705.6" y="574.3" width="11.3" height="54.4" rx="1.5"/>
<line class="t" x1="716.6" y1="575" x2="716.6" y2="628"/>
<rect class="tw" x="718.6" y="589.5" width="19.2" height="23.8" rx="1"/>
<line class="m" x1="735" y1="590" x2="735" y2="613"/>
<path class="mw" d="M754.9,639 V575 Q754.9,573 757,573 H778.6 Q780.7,573 780.7,575 V639 Z"/>
<line class="t" x1="757" y1="572.4" x2="778.6" y2="572.4"/>
<path class="mw" d="M737.8,592.1 H754.6 Q760.4,601.3 754.6,610.4 H737.8"/>
<line class="d" x1="706" y1="601.3" x2="716" y2="601.3"/>
<line class="d" x1="719" y1="601.3" x2="734" y2="601.3"/>
<line class="d" x1="741.7" y1="601.3" x2="750.5" y2="601.3"/>
<line class="d" x1="760.4" y1="601.3" x2="787" y2="601.3"/>
<line class="m" x1="756.6" y1="639" x2="756.6" y2="718"/>
<line class="m" x1="778.5" y1="639" x2="778.5" y2="718"/>
<path class="m" d="M756.7,712 Q756,722 756.1,735 V817" style="stroke-width:2.9"/>
<path class="m" d="M778.5,706 Q779.6,716 779.6,730 V817" style="stroke-width:2.9"/>
<path class="m" d="M801.6,583 L814.9,587.6"/>
<path class="m" d="M814.9,587.6 L783.6,682.2" style="stroke-width:3.2;stroke-linecap:round"/>
<path class="m" d="M801.6,583 L770.4,677.8 Q760.5,700 758.2,718.2" style="stroke-width:2.4"/>
<line class="m" x1="801.6" y1="583.5" x2="780.9" y2="620"/>
<line class="m" x1="770.4" y1="677.8" x2="782.4" y2="681.6"/>
<path class="m" d="M782.3,682.4 Q791,692 790.3,699 Q789.5,708 785,708 Q779.8,708 780.3,699.5 Q780.6,690 781.5,683" style="stroke-width:2.2"/>
<line class="m" x1="756.6" y1="639" x2="756.6" y2="718"/>
<line class="m" x1="778.5" y1="639" x2="778.5" y2="718"/>
<path class="m" d="M756.7,712 Q756,722 756.1,735 V817" style="stroke-width:2.9"/>
<path class="m" d="M778.5,706 Q779.6,716 779.6,730 V817" style="stroke-width:2.9"/>
<path class="m" d="M801.6,583 L814.9,587.6"/>
<path class="m" d="M814.9,587.6 L783.6,682.2" style="stroke-width:3.2;stroke-linecap:round"/>
<path class="m" d="M801.6,583 L770.4,677.8 Q760.5,700 758.2,718.2" style="stroke-width:2.4"/>
<line class="m" x1="801.6" y1="583.5" x2="780.9" y2="620"/>
<line class="m" x1="770.4" y1="677.8" x2="782.4" y2="681.6"/>
<path class="m" d="M782.3,682.4 Q791,692 790.3,699 Q789.5,708 785,708 Q779.8,708 780.3,699.5 Q780.6,690 781.5,683" style="stroke-width:2.2"/>
<rect class="mw" x="760.6" y="805.7" width="14.2" height="6.8" rx="1"/>
<circle class="mw" cx="767.6" cy="830.4" r="17" style="stroke-width:3.6"/>
<line class="m" x1="756.7" y1="842" x2="756.7" y2="1238"/>
<line class="m" x1="779" y1="842" x2="779" y2="1238"/>
<line class="d" x1="639" y1="1237.3" x2="707" y2="1237.3"/>
<line class="d" x1="639" y1="1292.1" x2="707" y2="1292.1"/>
<line class="d" x1="645.4" y1="1216.3" x2="645.4" y2="1394"/>
<polygon class="a" points="645.4,1237.3 642.3,1219.3 648.5,1219.3"/>
<polygon class="a" points="645.4,1292.1 648.5,1310.1 642.3,1310.1"/>
<line class="d" x1="668" y1="1255.3" x2="687" y2="1255.3"/>
<line class="d" x1="668" y1="1274.3" x2="687" y2="1274.3"/>
<line class="d" x1="673.6" y1="1234" x2="673.6" y2="1391.5"/>
<polygon class="a" points="673.6,1255.3 670.5,1237.3 676.7,1237.3"/>
<polygon class="a" points="673.6,1274.3 676.7,1292.3 670.5,1292.3"/>
<g transform="translate(642,1393.5) rotate(-90)"><text class="tx" transform="scale(0.92,1)" font-size="23.4"><tspan x="-0 13.65" y="0">2-</tspan><tspan class="ds" font-size="22.8" x="22.79" y="-0.8">∅</tspan><tspan x="46.19 57.89" y="0">60</tspan></text><line class="d" x1="23" y1="3.8" x2="36.3" y2="-19"/></g>
<g transform="translate(670.3,1391) rotate(-90)"><text class="tx" transform="scale(0.92,1)" font-size="23.4"><tspan x="-0 13.65 20.79 35.08 49.38 58.48" y="0">2-G1/2</tspan></text></g>
<rect class="tw" x="687.3" y="1255.4" width="17" height="18.7" rx="1.5"/>
<rect class="mw" x="706.8" y="1237.3" width="18" height="54.7" rx="2"/>
<line class="m" x1="723.8" y1="1238.5" x2="723.8" y2="1291" style="stroke-width:3.6"/>
<path class="mw" d="M725.6,1250.5 Q725.6,1248.6 728,1248.6 H735.5 Q738.2,1248.6 738.4,1251 V1278 Q738.2,1280.2 735.5,1280.2 H728 Q725.6,1280.2 725.6,1278 Z" style="stroke-width:2.4"/>
<line class="m" x1="726" y1="1255.7" x2="738" y2="1255.7"/>
<line class="m" x1="726" y1="1272.8" x2="738" y2="1272.8"/>
<line class="t" x1="738" y1="1251" x2="738" y2="1278"/>
<rect class="mw" x="740.3" y="1253.4" width="6.7" height="22.1"/>
<rect class="mw" x="755.6" y="1238" width="24.8" height="5"/>
<line class="t" x1="756.5" y1="1238" x2="779.4" y2="1238"/>
<circle class="mw" cx="767.8" cy="1264.6" r="24.5" style="stroke-width:2.6"/>
<circle class="m" cx="767.8" cy="1264.6" r="19.4" style="stroke-width:2.2"/>
<path class="m" d="M756.6,1261.5 L761.5,1247.3 Q767.8,1245.6 774.1,1247.3 L779,1261.5" style="stroke-width:2"/>
<path class="m" d="M756.6,1261.5 A12.3,12.3 0 1 0 779,1261.5" style="stroke-width:2.4"/>
<line class="m" x1="752.4" y1="1255.2" x2="756.6" y2="1260.6"/>
<line class="m" x1="783.2" y1="1255.2" x2="779" y2="1260.6"/>
<path class="t" d="M761.2,1247.2 Q767.8,1245 774.4,1247.2"/>
<rect class="m" x="763.2" y="1281.3" width="9.4" height="3.5" style="fill:#999;stroke-width:1.2"/>
<path class="m" d="M751.0,1254.5 A19.4,19.4 0 0 0 751.0,1274.9" style="stroke-width:3.4"/>
<line class="m" x1="755.6" y1="1291" x2="780.2" y2="1291"/>
<path class="m" d="M755.7,1289.5 L753.8,1308 V1346 Q753.8,1348.2 756.3,1348.2 H779 Q781.4,1348.2 781.4,1346 V1341.5 M781.4,1319.6 V1308 L779.9,1289.5"/>
<line class="m" x1="753.8" y1="1308" x2="781.6" y2="1308" style="stroke-width:2.6"/>
<line class="m" x1="753.8" y1="1312.3" x2="781.6" y2="1312.3" style="stroke-width:2.6"/>
<rect class="mw" x="758.4" y="1348.6" width="18.2" height="8.8" rx="1"/>
<line class="t" x1="758.6" y1="1357" x2="776.4" y2="1357"/>
<path class="m" d="M781.4,1319.6 H848.2 A35.6,35.6 0 0 1 873.4,1330 L889.4,1346.2 L874.3,1361.3 L857.9,1345.4 A13.7,13.7 0 0 0 848.2,1341.5 H781.4" style="stroke-width:2.2"/>
<path class="m" d="M781.6,1319.6 Q770.5,1330.5 781.6,1341.5" style="stroke-width:2.2"/>
<line class="m" x1="848.2" y1="1319.6" x2="848.2" y2="1341.5"/>
<line class="m" x1="858.9" y1="1344.9" x2="873.4" y2="1329.9" style="stroke-width:2.3"/>
<line class="m" x1="863.3" y1="1349.3" x2="877.8" y2="1334.6" style="stroke-width:2.3"/>
<line class="m" x1="889.4" y1="1346.2" x2="874.3" y2="1361.3" style="stroke-width:3.8"/>
<line class="d" x1="861.4" y1="1333.6" x2="889.1" y2="1360.7"/>
<line class="d" x1="758.3" y1="1357.6" x2="758.3" y2="1393.2"/>
<line class="d" x1="776.7" y1="1357.6" x2="776.7" y2="1393.2"/>
<line class="d" x1="737" y1="1386.9" x2="842.4" y2="1386.9"/>
<polygon class="a" points="758.3,1386.9 740.3,1390 740.3,1383.8"/>
<polygon class="a" points="776.7,1386.9 794.7,1383.8 794.7,1390"/>
<g transform="translate(799.5,1382.6)"><text class="tx" transform="scale(0.92,1)" font-size="23.4"><tspan x="-2.6 11.69 25.99 35.08" y="0">G1/2</tspan></text></g>
<line class="d" x1="706.8" y1="1292" x2="706.8" y2="1540.5"/>
<line class="d" x1="767.7" y1="1360" x2="767.7" y2="1445.2"/>
<line class="d" x1="882.3" y1="1355" x2="882.3" y2="1487.7" style="stroke:#777"/>
<line class="d" x1="889.4" y1="1347" x2="889.4" y2="1540.5"/>
<line class="d" x1="706.8" y1="1439.6" x2="767.7" y2="1439.6"/>
<polygon class="a" points="706.8,1439.6 724.8,1436.5 724.8,1442.7"/>
<polygon class="a" points="767.7,1439.6 749.7,1442.7 749.7,1436.5"/>
<g transform="translate(726,1435.4)"><text class="tx" transform="scale(0.92,1)" font-size="23.4"><tspan x="-0 11.69" y="0">67</tspan></text></g>
<line class="d" x1="706.8" y1="1482" x2="882.3" y2="1482"/>
<polygon class="a" points="706.8,1482 724.8,1478.9 724.8,1485.1"/>
<polygon class="a" points="882.3,1482 864.3,1485.1 864.3,1478.9"/>
<g transform="translate(777.4,1478.2)"><text class="tx" transform="scale(0.92,1)" font-size="23.4"><tspan x="-0 11.69 23.39" y="0">193</tspan></text></g>
<line class="d" x1="706.8" y1="1534.8" x2="889.4" y2="1534.8"/>
<polygon class="a" points="706.8,1534.8 724.8,1531.7 724.8,1537.9"/>
<polygon class="a" points="889.4,1534.8 871.4,1537.9 871.4,1531.7"/>
<g transform="translate(780.8,1531)"><text class="tx" transform="scale(0.92,1)" font-size="23.4"><tspan x="-0 11.69 23.39" y="0">201</tspan></text></g>
<line class="c2" x1="767.5" y1="230.5" x2="767.5" y2="1360"/>
<line class="d" x1="688" y1="1264.6" x2="736" y2="1264.6"/>
</g>
<rect x="0.5" y="0.5" width="1272" height="1799" fill="none" stroke="#000" stroke-width="1.2"/>
</svg>
</body></html>
